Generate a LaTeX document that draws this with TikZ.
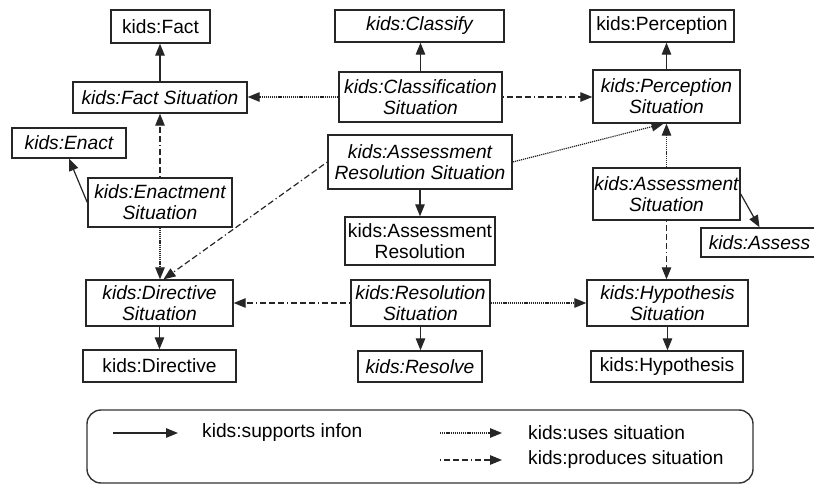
\documentclass[tikz,border=0pt]{standalone}
\usepackage{fontspec}
\setmainfont{Liberation Sans}
\usetikzlibrary{arrows.meta}
\begin{document}
\begin{tikzpicture}[x=1pt,y=-1pt,
  font=\fontsize{19.2}{21}\selectfont,
  box/.style={draw=black!85,line width=1.4pt,inner sep=0pt,align=center},
  slant/.style={font=\fontsize{19.2}{21}\selectfont\itshape},
  conn/.style={line width=1.2pt,draw=black!85,-{Triangle[length=12pt,width=9.5pt]}},
  supports/.style={conn},
  uses/.style={conn,dash pattern=on 1.2pt off 0.9pt},
  produces/.style={conn,dash pattern=on 1.2pt off 3pt on 6pt off 3pt on 6pt off 3pt on 6pt off 3pt},
]
\useasboundingbox (0,0) rectangle (814,484);
\fill[white] (0,0) rectangle (814,484);

% top row: infons
\node[box,minimum width=99pt,minimum height=33pt] (fact) at (160.5,26.5) {kids:Fact};
\node[box,slant,minimum width=169pt,minimum height=32pt] (classify) at (419.5,26) {kids:Classify};
\node[box,minimum width=144pt,minimum height=32pt] (perc) at (662,26) {kids:Perception};

% situations, second row
\node[box,slant,minimum width=174pt,minimum height=31pt] (factsit) at (160,97.5) {kids:Fact Situation};
\node[box,slant,minimum width=163pt,minimum height=50pt] (classsit) at (420.5,97) {kids:Classification\\Situation};
\node[box,slant,minimum width=147pt,minimum height=53pt] (percsit) at (666.5,96.5) {kids:Perception\\Situation};

% middle band
\node[box,slant,minimum width=114pt,minimum height=30pt] (enact) at (69,143) {kids:Enact};
\node[box,slant,minimum width=144pt,minimum height=49pt] (enactsit) at (160,202.5) {kids:Enactment\\Situation};
\node[box,slant,minimum width=184pt,minimum height=54pt] (ars) at (420,162) {kids:Assessment\\Resolution Situation};
\node[box,minimum width=150pt,minimum height=48pt] (ar) at (420,241) {kids:Assessment\\Resolution};
\node[box,slant,minimum width=147pt,minimum height=52pt] (assit) at (666.5,194) {kids:Assessment\\Situation};
\node[box,slant,minimum width=117pt,minimum height=29pt] (assess) at (759.5,242.5) {kids:Assess};

% lower situations
\node[box,slant,minimum width=147pt,minimum height=46pt] (dirsit) at (159.5,303) {kids:Directive\\Situation};
\node[box,slant,minimum width=139pt,minimum height=46pt] (ressit) at (420.5,303) {kids:Resolution\\Situation};
\node[box,slant,minimum width=161pt,minimum height=46pt] (hypsit) at (667.5,303) {kids:Hypothesis\\Situation};

% bottom row: infons
\node[box,minimum width=153pt,minimum height=32pt] (dir) at (159.5,366) {kids:Directive};
\node[box,slant,minimum width=124pt,minimum height=31pt] (resolve) at (420,366.5) {kids:Resolve};
\node[box,minimum width=152pt,minimum height=31pt] (hyp) at (667,366.5) {kids:Hypothesis};

% supports infon
\draw[supports] (factsit.north) -- (factsit.north |- fact.south);
\draw[supports] (classsit.north) -- (classsit.north |- classify.south);
\draw[supports] (percsit.north) -- (percsit.north |- perc.south);
\draw[supports] (enactsit.west) -- (enact.south);
\draw[supports] (ars.south) -- (ar.north);
\draw[supports] (assit.east) -- (assess.north);
\draw[supports] (dirsit.south) -- (dirsit.south |- dir.north);
\draw[supports] (ressit.south) -- (ressit.south |- resolve.north);
\draw[supports] (hypsit.south) -- (hypsit.south |- hyp.north);

% uses situation
\draw[uses] (classsit.west) -- (classsit.west -| factsit.east);
\draw[uses] (ars.east) -- ([xshift=-3pt]percsit.south);
\draw[uses] (assit.north) -- (percsit.south);
\draw[uses] (enactsit.south) -- (enactsit.south |- dirsit.north);
\draw[uses] (ressit.east) -- (ressit.east -| hypsit.west);

% produces situation
\draw[produces] (classsit.east) -- (classsit.east -| percsit.west);
\draw[produces] (enactsit.north) -- (enactsit.north |- factsit.south);
\draw[produces] (ars.west) -- ([xshift=4pt]dirsit.north);
\draw[produces] (assit.south) -- (assit.south |- hypsit.north);
\draw[produces] (ressit.west) -- (ressit.west -| dirsit.east);

% legend
\draw[draw=black!80,line width=1.4pt,rounded corners=14pt] (87,410) rectangle (753,483);
\coordinate (ls0) at (113,433);
\coordinate (ls1) at (178,433);
\coordinate (lu0) at (440,433);
\coordinate (lu1) at (502,433);
\coordinate (lp0) at (440,460);
\coordinate (lp1) at (502,460);
\draw[supports] (ls0) -- (ls1);
\draw[uses] (lu0) -- (lu1);
\draw[produces] (lp0) -- (lp1);
\node[anchor=west,inner sep=0pt] (lst) at (202,433) {kids:supports infon};
\node[anchor=west,inner sep=0pt] (lut) at (528,433) {kids:uses situation};
\node[anchor=west,inner sep=0pt] (lpt) at (528,460) {kids:produces situation};
\end{tikzpicture}
\end{document}
